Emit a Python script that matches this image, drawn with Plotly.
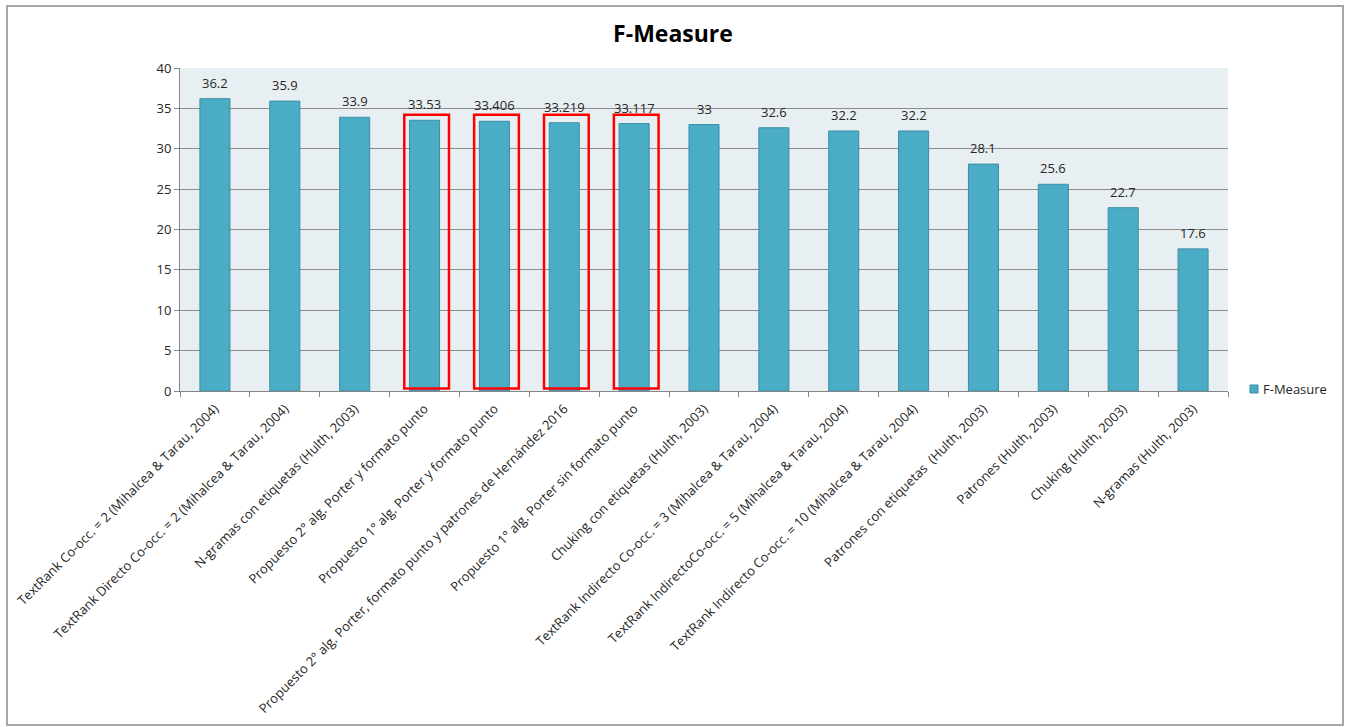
import plotly.graph_objects as go

categories = [
    "TextRank Co-occ. = 2 (Mihalcea & Tarau, 2004)",
    "TextRank Directo Co-occ. = 2 (Mihalcea & Tarau, 2004)",
    "N-gramas con etiquetas (Hulth, 2003)",
    "Propuesto 2° alg. Porter y formato punto",
    "Propuesto 1° alg. Porter y formato punto",
    "Propuesto 2° alg. Porter, formato punto y patrones de Hernández 2016",
    "Propuesto 1° alg. Porter sin formato punto",
    "Chuking con etiquetas (Hulth, 2003)",
    "TextRank Indirecto Co-occ. = 3 (Mihalcea & Tarau, 2004)",
    "TextRank IndirectoCo-occ. = 5 (Mihalcea & Tarau, 2004)",
    "TextRank Indirecto Co-occ. = 10 (Mihalcea & Tarau, 2004)",
    "Patrones con etiquetas  (Hulth, 2003)",
    "Patrones (Hulth, 2003)",
    "Chuking (Hulth, 2003)",
    "N-gramas (Hulth, 2003)",
]
f_measure = [36.2, 35.9, 33.9, 33.53, 33.406, 33.219, 33.117, 33, 32.6, 32.2, 32.2, 28.1, 25.6, 22.7, 17.6]
value_labels = ["36.2", "35.9", "33.9", "33.53", "33.406", "33.219", "33.117", "33", "32.6", "32.2", "32.2", "28.1", "25.6", "22.7", "17.6"]
highlighted = [3, 4, 5, 6]
y_ticks = [0, 5, 10, 15, 20, 25, 30, 35, 40]
series_name = "F-Measure"

FONT = "'Open Sans', sans-serif"
BAR_COLOR = "#4BACC6"
W, H = 1346, 727
L, R, T, B = 180, 118, 68, 336
PW, PH = W - L - R, H - T - B

def px(x):
    return (x - L) / PW

def py(y):
    return 1 - (y - T) / PH

fig = go.Figure()
fig.add_trace(go.Bar(
    x=categories, y=f_measure, name=series_name,
    marker=dict(color=BAR_COLOR, line=dict(color="#3A8DA6", width=1)),
    width=0.43, showlegend=False,
))

annotations = []
for c, v, t in zip(categories, f_measure, value_labels):
    annotations.append(dict(x=c, y=v, xref="x", yref="y", text=t, showarrow=False,
                            yanchor="bottom", yshift=5,
                            font=dict(family=FONT, size=13, color="#262626")))
# legend
annotations.append(dict(x=px(1261), y=py(389), xref="paper", yref="paper", text=series_name,
                        showarrow=False, xanchor="left", yanchor="middle",
                        font=dict(family=FONT, size=13, color="#262626")))

shapes = []
for i in highlighted:
    shapes.append(dict(type="rect", xref="x", yref="y",
                       x0=i - 0.29, x1=i + 0.35, y0=0.3, y1=34.2,
                       line=dict(color="#FF0000", width=2.5)))
# legend key
shapes.append(dict(type="rect", xref="paper", yref="paper",
                   x0=px(1250), x1=px(1258), y0=py(393), y1=py(385),
                   fillcolor=BAR_COLOR, line=dict(color="#3A8DA6", width=1)))
# chart border
shapes.append(dict(type="rect", xref="paper", yref="paper",
                   x0=px(7), x1=px(1343), y0=py(725), y1=py(6),
                   line=dict(color="#A6A6A6", width=2), layer="below"))

fig.update_layout(
    width=W, height=H,
    margin=dict(l=L, r=R, t=T, b=B, autoexpand=False),
    paper_bgcolor="white",
    plot_bgcolor="#E8EFF3",
    font=dict(family=FONT, size=13, color="#262626"),
    title=dict(text="<b>F-Measure</b>", x=673 / W, xref="container", xanchor="center",
               y=1 - 34 / H, yref="container", yanchor="middle",
               font=dict(family=FONT, size=23, color="#000000")),
    showlegend=False,
    annotations=annotations,
    shapes=shapes,
)
fig.update_xaxes(
    type="category", tickangle=-45, tickson="boundaries",
    ticks="outside", ticklen=5, tickcolor="#868686",
    showline=True, linecolor="#868686", linewidth=1,
    showgrid=False, ticklabelstandoff=4,
    tickfont=dict(family=FONT, size=13, color="#262626"),
    range=[-0.5, len(categories) - 0.5],
)
fig.update_yaxes(
    range=[0, 40], tickvals=y_ticks, ticks="outside", ticklen=5, tickcolor="#868686",
    showline=True, linecolor="#868686", linewidth=1,
    showgrid=True, gridcolor="#8C8C8C", gridwidth=1, zeroline=False,
    tickfont=dict(family=FONT, size=13, color="#262626"),
)

fig.write_html("out.html")
